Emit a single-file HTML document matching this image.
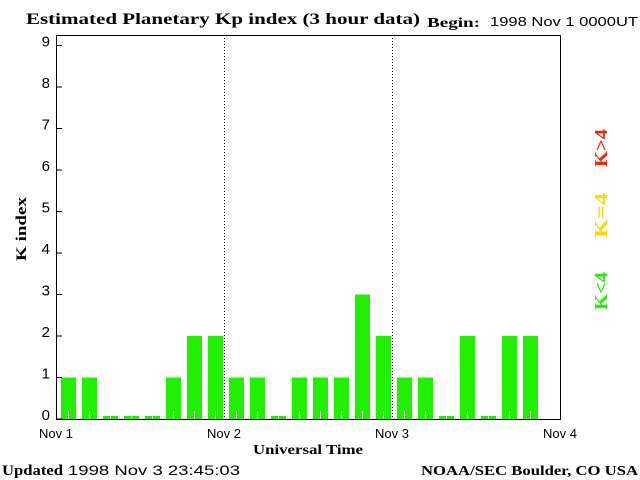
<!DOCTYPE html>
<html><head><meta charset="utf-8"><style>
body{margin:0;background:#fff;}
svg{display:block;}
</style></head><body>
<svg id="chart" width="640" height="480" xmlns="http://www.w3.org/2000/svg">
<text x="26" y="24" textLength="394" lengthAdjust="spacingAndGlyphs" font-family="Liberation Serif, serif" font-weight="bold" font-size="16">Estimated Planetary Kp index (3 hour data)</text>
<text x="427" y="27" textLength="53" lengthAdjust="spacingAndGlyphs" font-family="Liberation Serif, serif" font-weight="bold" font-size="14">Begin:</text>
<text x="490" y="26" textLength="148" lengthAdjust="spacingAndGlyphs" font-family="Liberation Sans, sans-serif" font-size="13">1998 Nov 1 0000UT</text>
<g id="bars"></g>
<g id="axes"></g>
<text transform="translate(26,229) rotate(-90)" text-anchor="middle" textLength="64" lengthAdjust="spacingAndGlyphs" font-family="Liberation Serif, serif" font-weight="bold" font-size="15">K index</text>
<text x="253" y="454" textLength="110" lengthAdjust="spacingAndGlyphs" font-family="Liberation Serif, serif" font-weight="bold" font-size="14">Universal Time</text>
<text x="2" y="475" textLength="61" lengthAdjust="spacingAndGlyphs" font-family="Liberation Serif, serif" font-weight="bold" font-size="15">Updated</text>
<text x="68" y="475" textLength="172" lengthAdjust="spacingAndGlyphs" font-family="Liberation Sans, sans-serif" font-size="14">1998 Nov  3 23:45:03</text>
<text x="421" y="475" textLength="217" lengthAdjust="spacingAndGlyphs" font-family="Liberation Serif, serif" font-weight="bold" font-size="14">NOAA/SEC Boulder, CO USA</text>
<text transform="translate(607,167) rotate(-90)" textLength="38" lengthAdjust="spacingAndGlyphs" fill="#ff2000" font-family="Liberation Serif, serif" font-weight="bold" font-size="18">K&gt;4</text>
<text transform="translate(607,238) rotate(-90)" textLength="45" lengthAdjust="spacingAndGlyphs" fill="#ffd800" font-family="Liberation Serif, serif" font-weight="bold" font-size="18">K=4</text>
<text transform="translate(607,310) rotate(-90)" textLength="38" lengthAdjust="spacingAndGlyphs" fill="#20f000" font-family="Liberation Serif, serif" font-weight="bold" font-size="18">K&lt;4</text>
</svg>
<script>
const kpValues=[1,1,0,0,0,1,2,2, 1,1,0,1,1,1,3,2, 1,1,0,2,0,2,2];
const yTicks=[0,1,2,3,4,5,6,7,8,9];
const dayLabels=["Nov 1","Nov 2","Nov 3","Nov 4"];
const NS="http://www.w3.org/2000/svg";
const L=56,R=560,T=35,B=419,unit=41.5;
const y=v=>B-unit*v;
const binW=(R-L)/24;
const x=i=>L+binW*i;
function mk(tag,attrs,parent){const e=document.createElementNS(NS,tag);for(const k in attrs)e.setAttribute(k,attrs[k]);parent.appendChild(e);return e;}
const bars=document.getElementById('bars'),axes=document.getElementById('axes');
kpValues.forEach((v,i)=>{
  const x0=x(i)+5, top=v>0?y(v):B-3;
  const c=v>4?'#ff2000':(v==4?'#ffd800':'#20f000');
  const r=mk('rect',{x:x0,y:top,width:15,height:B-top,fill:c},bars);
  
  
  const w=mk('line',{x1:x0+7.5,x2:x0+7.5,y1:B,y2:Math.max(top,B-8),stroke:'#fff','stroke-width':1},bars);
  
  
});
[1,2].forEach(d=>{
  const l=mk('line',{x1:L+168*d+0.5,x2:L+168*d+0.5,y1:T,y2:B,stroke:'#000','stroke-dasharray':'1,2'},axes);
  
  
});
const f=mk('rect',{x:L+0.5,y:T+0.5,width:R-L,height:B-T,fill:'none',stroke:'#000','stroke-width':1},axes);


yTicks.forEach(v=>{
  const t=mk('line',{x1:L,x2:L+6,y1:y(v),y2:y(v),stroke:'#000'},axes);
  
  
  const tx=mk('text',{x:L-6,y:y(v)+1,'text-anchor':'end','font-family':'Liberation Sans, sans-serif','font-size':15},axes);
  tx.textContent=v;
  
  
});
dayLabels.forEach((s,d)=>{
  const tx=mk('text',{x:L+168*d,y:438,'text-anchor':'middle','font-family':'Liberation Sans, sans-serif','font-size':13},axes);
  tx.textContent=s;
  
  
});
</script>
</body></html>
